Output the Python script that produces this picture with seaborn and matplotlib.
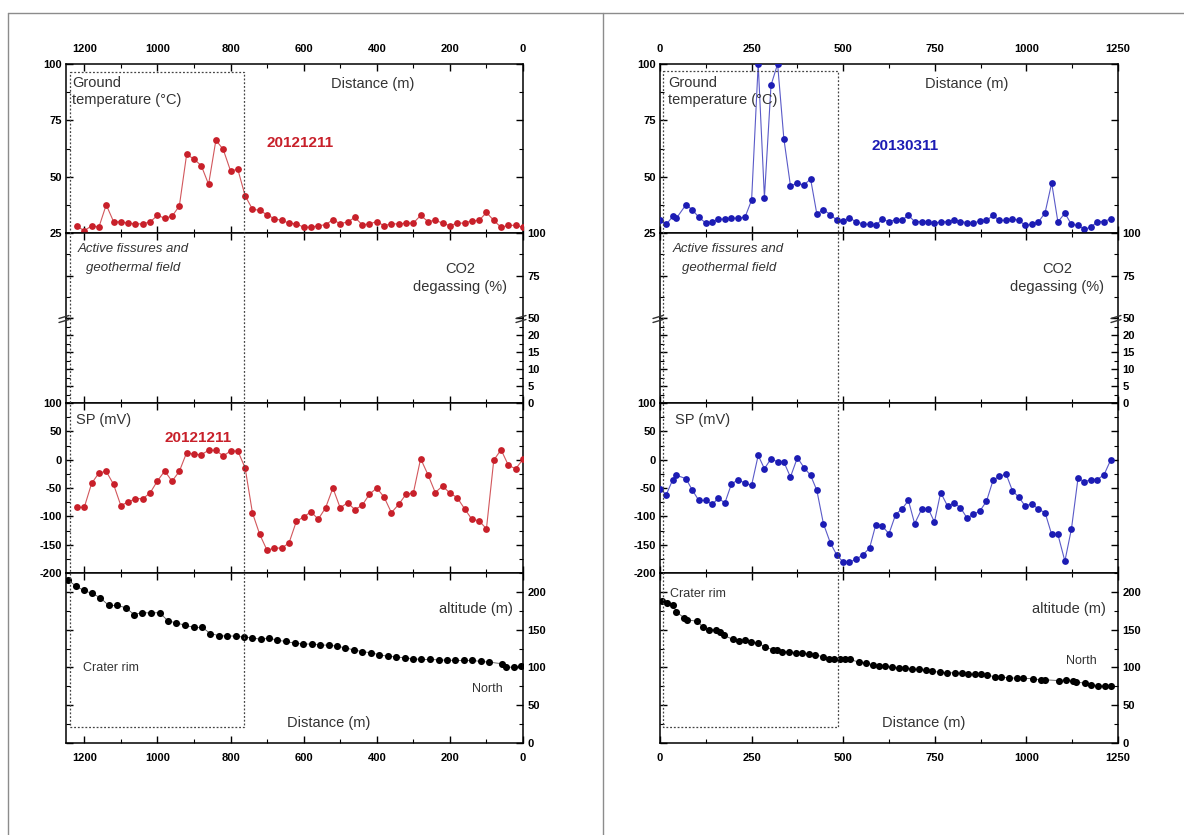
import matplotlib
matplotlib.use('Agg')
import matplotlib.pyplot as plt
import seaborn as sns
from matplotlib.lines import Line2D
from matplotlib.ticker import MultipleLocator

# ---- data ----
# 2012-12-11 profile (distance runs 1250 -> 0)
dist_1211 = [1220, 1200, 1180, 1160, 1140, 1120, 1100, 1080, 1060, 1040,
             1020, 1000, 980, 960, 940, 920, 900, 880, 860, 840,
             820, 800, 780, 760, 740, 720, 700, 680, 660, 640,
             620, 600, 580, 560, 540, 520, 500, 480, 460, 440,
             420, 400, 380, 360, 340, 320, 300, 280, 260, 240,
             220, 200, 180, 160, 140, 120, 100, 80, 60, 40,
             20, 0]
temp_1211 = [28, 26, 28.2, 27.6, 37.5, 30.1, 29.9, 29.4, 29, 29.1,
             29.9, 32.8, 31.6, 32.4, 37, 59.9, 57.8, 54.9, 46.6, 66.2,
             62.1, 52.6, 53.2, 41.5, 35.6, 35, 33.1, 31.3, 30.6, 29.4,
             29, 27.6, 27.6, 28.2, 28.7, 30.9, 29.1, 29.9, 31.9, 28.7,
             29, 30.1, 28.2, 29.1, 29, 29.4, 29.4, 32.8, 30.1, 30.6,
             29.4, 28.2, 29.4, 29.4, 30.4, 30.6, 34.1, 30.6, 27.5, 28.4,
             28.4, 27.5]
sp_1211 = [-84, -84, -42, -23.5, -20.6, -43.5, -81, -74.7, -68.8, -68.8,
           -58.8, -37.6, -20, -38, -20.6, 12.4, 9.4, 8.8, 16.5, 16.5,
           6.5, 15.3, 15.3, -14.7, -94, -132, -160, -156, -156, -147,
           -109, -101, -92, -105, -85, -50, -85, -76, -88, -80.6,
           -61, -50, -66, -93.5, -79, -61, -59, 1.8, -26.5, -58,
           -46.5, -59, -67, -86.5, -105, -108, -122, -1, 17.6, -10,
           -16, 0.6]
alt_dist_1211 = [1245, 1224, 1202, 1179, 1157, 1133, 1110, 1086, 1064, 1041,
                 1017, 994, 971, 948, 924, 900, 877, 855, 831, 809,
                 786, 764, 741, 717, 694, 672, 648, 625, 601, 578,
                 555, 531, 509, 486, 462, 440, 417, 393, 369, 347,
                 324, 300, 278, 255, 231, 209, 186, 162, 140, 116,
                 93, 58, 47, 25, 5]
alt_1211 = [216, 208, 202, 198, 192.5, 182, 182, 179, 170, 172.6,
            172, 172.6, 161.5, 159, 155.8, 153, 153, 144.7, 142, 141.6,
            141.6, 140, 139.4, 137, 139, 135.8, 134.5, 132, 131, 131,
            129.6, 129.6, 128, 126, 123, 121, 119.5, 116.8, 114.6, 114,
            112.8, 111.5, 110.6, 110.6, 110, 109.7, 109.3, 109.3, 109.3, 108,
            107, 105, 100.4, 100.4, 101.8]

# 2013-03-11 profile (distance runs 0 -> 1250)
dist_0311 = [0, 17, 35, 45, 71, 88, 106, 125, 143, 159,
             177, 195, 214, 232, 250, 268, 285, 303, 321, 338,
             356, 375, 393, 411, 428, 446, 465, 483, 500, 517,
             535, 554, 572, 589, 606, 625, 643, 661, 678, 695,
             714, 732, 749, 766, 785, 803, 820, 838, 855, 873,
             891, 909, 926, 945, 962, 979, 997, 1015, 1033, 1051,
             1069, 1086, 1105, 1123, 1141, 1158, 1176, 1194, 1212, 1230]
temp_0311 = [30.6, 28.8, 32.4, 31.6, 37.6, 35.3, 32, 29.4, 29.9, 31,
             31.3, 31.6, 31.6, 32, 39.6, 100, 40.7, 90.6, 100, 66.9,
             46, 47, 46.3, 49, 33.5, 35.3, 33.2, 30.6, 30.3, 31.8,
             29.9, 29.1, 28.8, 28.4, 31, 30.1, 30.9, 30.9, 32.8, 30.1,
             30.1, 29.9, 29.4, 29.9, 30.1, 30.9, 30.1, 29.6, 29.4, 30.3,
             30.6, 32.8, 30.6, 30.6, 31.3, 30.6, 28.4, 28.8, 29.9, 34,
             47.2, 29.9, 33.8, 28.8, 28.4, 26.6, 27.6, 30.1, 30.1, 31.3]
sp_0311 = [-51, -62, -35, -27.6, -33.5, -53.5, -72, -72, -79, -67.6,
           -76.5, -43, -35, -42, -45, 7.6, -16, 1.8, -4, -4,
           -30.6, 3.5, -14, -27.6, -54, -113, -147, -169, -180.6, -180.6,
           -176, -167.6, -156, -114.7, -117, -130.6, -97, -86.5, -72, -113,
           -87.6, -86.5, -110, -58, -82, -76.5, -84.7, -103, -96.5, -90.6,
           -73.5, -36.5, -29, -26, -55, -66, -82, -77.6, -87.6, -93.5,
           -132, -132, -179, -122, -32, -39.4, -35, -35, -26.5, -0.6]
alt_dist_0311 = [5, 20, 35, 45, 66, 75, 102, 117, 135, 154,
                 163, 175, 199, 215, 232, 249, 268, 286, 308, 320,
                 332, 352, 370, 388, 406, 424, 446, 461, 475, 490,
                 506, 518, 543, 561, 581, 597, 615, 634, 652, 670,
                 688, 706, 725, 743, 763, 784, 805, 823, 841, 859,
                 877, 893, 913, 932, 952, 974, 992, 1017, 1041, 1052,
                 1088, 1108, 1126, 1135, 1161, 1175, 1195, 1214, 1230]
alt_0311 = [188, 185, 183, 173.5, 165.5, 163, 161, 153.5, 150, 150,
            147, 142.5, 137, 134.5, 135.8, 133.6, 132.7, 127, 123.5, 122.6,
            121, 121, 119.5, 119, 118, 116.8, 113.7, 111.5, 111.5, 110.6,
            110.6, 110.6, 107, 106, 103.5, 101.8, 101.3, 100.4, 99.6, 99,
            98.2, 97.3, 96, 94.7, 93.8, 92.9, 92.9, 92.5, 91.6, 90.7,
            91.6, 89.4, 88, 87.2, 86.3, 85.8, 85.8, 85, 83.6, 83.6,
            82.7, 83.6, 82.7, 80.5, 79.2, 77.4, 76, 75.2, 74.8]

# extent of the "active fissures" box: (far x, near x, top temp, bottom altitude)
box_1211 = (1240, 763, 96.5, 21)
box_0311 = (9, 486, 96.8, 21)

sns.set_style('ticks')
plt.rcParams['font.family'] = ['Liberation Sans', 'DejaVu Sans']
plt.rcParams['axes.unicode_minus'] = False
TXT = '#333333'
W, H = 1184, 835

fig = plt.figure(figsize=(11.84, 8.35), dpi=100)


def fx(px):
    return px / W


def fy(py):
    return 1 - py / H


def style_axis(ax, xlim, xmaj, xmin):
    ax.set_xlim(*xlim)
    ax.xaxis.set_major_locator(MultipleLocator(xmaj))
    ax.xaxis.set_minor_locator(MultipleLocator(xmin))
    ax.tick_params(which='both', direction='in', top=True, right=True,
                   bottom=True, left=True, labelsize=8, colors='black',
                   labelleft=False, labelright=False, labeltop=False, labelbottom=False)
    ax.tick_params(which='major', length=5, width=1)
    ax.tick_params(which='minor', length=3, width=0.8)
    ax.tick_params(axis='y', pad=3)
    for s in ax.spines.values():
        s.set_linewidth(1.1)
        s.set_color('black')
    ax.set_xlabel('')
    ax.set_ylabel('')


def bold_ticks(ax):
    for lab in ax.get_xticklabels() + ax.get_yticklabels():
        lab.set_fontweight('bold')


def panel(x0px, wpx, xlim, xmaj, xmin, d, temp, sp, ad, alt, color, lcolor,
          date, date_xy, sp_date_xy, box, txt):
    fx0, fw = fx(x0px), wpx / W
    ax_t = fig.add_axes([fx0, fy(233), fw, 169 / H])
    ax_c1 = fig.add_axes([fx0, fy(318), fw, 85 / H])
    ax_c2 = fig.add_axes([fx0, fy(403), fw, 85 / H])
    ax_s = fig.add_axes([fx0, fy(573), fw, 170 / H])
    ax_a = fig.add_axes([fx0, fy(743), fw, 170 / H])

    # ground temperature
    sns.lineplot(x=d, y=temp, ax=ax_t, color=lcolor, linewidth=0.8)
    sns.scatterplot(x=d, y=temp, ax=ax_t, color=color, s=24, linewidth=0, zorder=3)
    ax_t.set_ylim(25, 100)
    ax_t.yaxis.set_major_locator(MultipleLocator(25))
    ax_t.yaxis.set_minor_locator(MultipleLocator(12.5))
    style_axis(ax_t, xlim, xmaj, xmin)
    ax_t.tick_params(labeltop=True, labelleft=True)
    ax_t.tick_params(axis='x', pad=7)

    # CO2 (broken axis, no data)
    ax_c1.set_ylim(50, 100)
    ax_c1.set_yticks([50, 75, 100])
    ax_c1.yaxis.set_minor_locator(MultipleLocator(12.5))
    style_axis(ax_c1, xlim, xmaj, xmin)
    ax_c1.tick_params(labelright=True)
    ax_c1.spines['bottom'].set_visible(False)
    ax_c1.tick_params(which='both', bottom=False)
    ax_c2.set_ylim(0, 25)
    ax_c2.set_yticks([0, 5, 10, 15, 20, 25])
    ax_c2.set_yticklabels(['0', '5', '10', '15', '20', ''])
    ax_c2.yaxis.set_minor_locator(MultipleLocator(2.5))
    style_axis(ax_c2, xlim, xmaj, xmin)
    ax_c2.tick_params(labelright=True)
    ax_c2.spines['top'].set_visible(False)
    ax_c2.tick_params(which='both', top=False)

    # SP
    sns.lineplot(x=d, y=sp, ax=ax_s, color=lcolor, linewidth=0.8)
    sns.scatterplot(x=d, y=sp, ax=ax_s, color=color, s=24, linewidth=0, zorder=3)
    ax_s.set_ylim(-200, 100)
    ax_s.yaxis.set_major_locator(MultipleLocator(50))
    ax_s.yaxis.set_minor_locator(MultipleLocator(25))
    style_axis(ax_s, xlim, xmaj, xmin)
    ax_s.tick_params(labelleft=True)

    # altitude
    sns.lineplot(x=ad, y=alt, ax=ax_a, color='#555555', linewidth=0.6)
    sns.scatterplot(x=ad, y=alt, ax=ax_a, color='black', s=26, linewidth=0, zorder=3)
    ax_a.set_ylim(0, 225)
    ax_a.yaxis.set_major_locator(MultipleLocator(50))
    ax_a.yaxis.set_minor_locator(MultipleLocator(25))
    style_axis(ax_a, xlim, xmaj, xmin)
    ax_a.tick_params(labelright=True, labelbottom=True)
    ax_a.tick_params(axis='x', pad=7)

    for ax in (ax_t, ax_c1, ax_c2, ax_s, ax_a):
        bold_ticks(ax)

    # texts
    kw = dict(color=TXT, fontsize=10.5)
    ax_t.text(txt['ground'], 0.93, 'Ground\ntemperature (°C)', transform=ax_t.transAxes,
              ha='left', va='top', linespacing=1.25, **kw)
    ax_t.text(txt['dist_top'], 0.882, 'Distance (m)', transform=ax_t.transAxes,
              ha='center', va='center', **kw)
    ax_t.text(date_xy[0], date_xy[1], date, transform=ax_t.transAxes, ha='center',
              va='center', color=color, fontsize=11, fontweight='bold')
    ax_c1.text(txt['fiss'], 0.70, 'Active fissures and\ngeothermal field',
               transform=ax_c1.transAxes, ha='center', va='center', multialignment='center',
               fontstyle='italic', color=TXT, fontsize=9.5, linespacing=1.75)
    ax_c1.text(txt['co2'], 0.47, 'CO2\ndegassing (%)', transform=ax_c1.transAxes,
               ha='center', va='center', multialignment='center', linespacing=1.3, **kw)
    ax_s.text(txt['sp'], 0.90, 'SP (mV)', transform=ax_s.transAxes, ha='left',
              va='center', **kw)
    if sp_date_xy is not None:
        ax_s.text(sp_date_xy[0], sp_date_xy[1], date, transform=ax_s.transAxes,
                  ha='center', va='center', color=color, fontsize=11, fontweight='bold')
    ax_a.text(txt['alt'], 0.788, 'altitude (m)', transform=ax_a.transAxes, ha='right',
              va='center', **kw)
    ax_a.text(txt['rim'][0], txt['rim'][1], 'Crater rim', transform=ax_a.transAxes,
              ha='left', va='center', color=TXT, fontsize=9)
    ax_a.text(txt['north'][0], txt['north'][1], 'North', transform=ax_a.transAxes,
              ha='center', va='center', color=TXT, fontsize=9)
    ax_a.text(txt['dist_bot'], 0.118, 'Distance (m)', transform=ax_a.transAxes,
              ha='center', va='center', **kw)

    # dotted box spanning the four rows
    inv = fig.transFigure.inverted()
    xa, xb, ttop, abot = box
    p1 = inv.transform(ax_t.transData.transform((xa, ttop)))
    p2 = inv.transform(ax_a.transData.transform((xb, abot)))
    bx = [p1[0], p2[0], p2[0], p1[0], p1[0]]
    by = [p1[1], p1[1], p2[1], p2[1], p1[1]]
    fig.add_artist(Line2D(bx, by, transform=fig.transFigure, color='#444444',
                          linestyle=(0, (1.5, 1.5)), linewidth=0.9, zorder=5))

    # axis break marks on the CO2 panel
    for xp in (x0px, x0px + wpx):
        for dy in (-2, 2):
            fig.add_artist(Line2D([fx(xp - 7), fx(xp + 3)], [fy(319 + dy + 1.5), fy(319 + dy - 1.5)],
                                  transform=fig.transFigure, color='#333333', linewidth=1.0))


panel(66, 457, (1250, 0), 200, 100, dist_1211, temp_1211, sp_1211,
      alt_dist_1211, alt_1211, '#c8202a', '#d2575c', '20121211',
      (0.512, 0.533), (0.289, 0.794), box_1211,
      {'ground': 0.013, 'dist_top': 0.672, 'fiss': 0.147, 'co2': 0.862,
       'sp': 0.022, 'alt': 0.978, 'rim': (0.037, 0.441), 'north': (0.923, 0.318),
       'dist_bot': 0.575})

panel(660, 458, (0, 1250), 250, 125, dist_0311, temp_0311, sp_0311,
      alt_dist_0311, alt_0311, '#1c1cb4', '#5a5ac8', '20130311',
      (0.534, 0.515), None, box_0311,
      {'ground': 0.017, 'dist_top': 0.670, 'fiss': 0.150, 'co2': 0.867,
       'sp': 0.033, 'alt': 0.974, 'rim': (0.022, 0.876), 'north': (0.919, 0.482),
       'dist_bot': 0.576})

# outer frame lines
frame = '#8c8c8c'
fig.add_artist(Line2D([fx(8), 1], [fy(13), fy(13)], transform=fig.transFigure, color=frame, lw=1))
fig.add_artist(Line2D([fx(8), fx(8)], [0, fy(13)], transform=fig.transFigure, color=frame, lw=1))
fig.add_artist(Line2D([fx(603), fx(603)], [0, fy(13)], transform=fig.transFigure, color=frame, lw=1))

fig.savefig('out.png', dpi=100)
plt.close(fig)
